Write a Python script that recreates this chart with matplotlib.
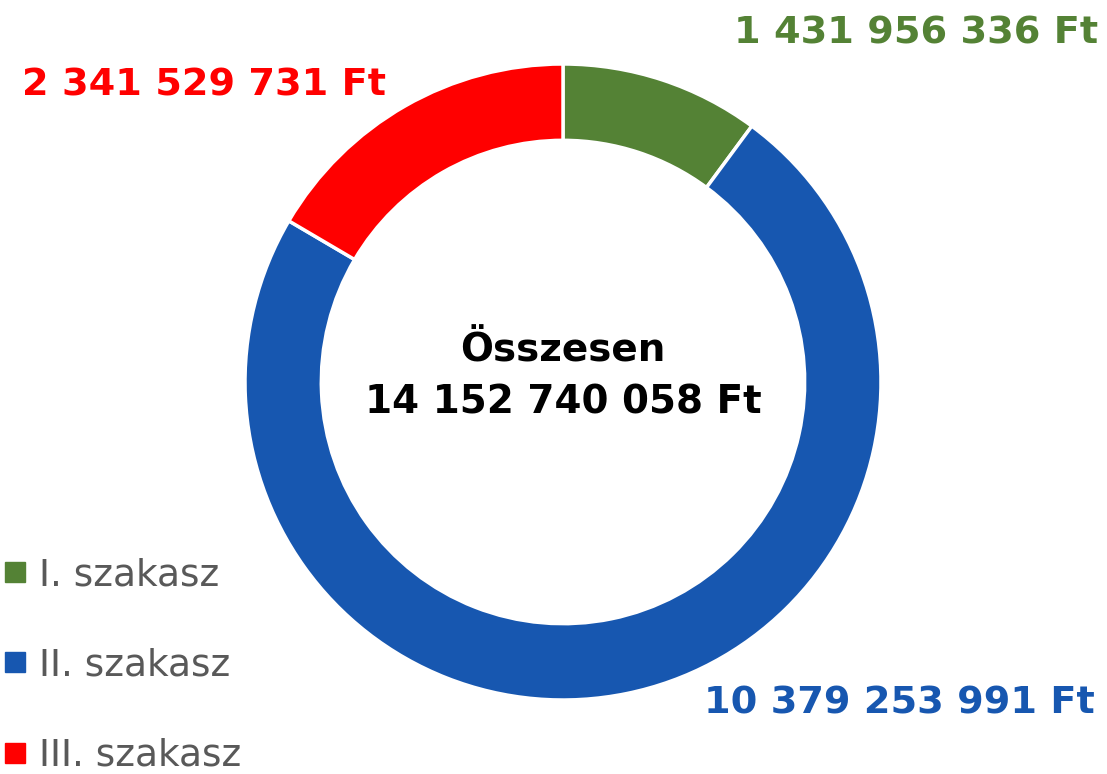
import matplotlib.pyplot as plt
from matplotlib.lines import Line2D

szakaszok = ['I. szakasz', 'II. szakasz', 'III. szakasz']
osszegek = [1431956336, 10379253991, 2341529731]
cimkek = ['1 431 956 336 Ft', '10 379 253 991 Ft', '2 341 529 731 Ft']
szinek = ['#548235', '#1757B0', '#FF0000']

W, H = 1107, 774
fig = plt.figure(figsize=(W / 100, H / 100), dpi=100)
ax = fig.add_axes([0, 0, 1, 1])

cx, cy, r = 563, H - 382, 318
wedges, _ = ax.pie(osszegek, colors=szinek, startangle=90, counterclock=False,
                   center=(cx, cy), radius=r, frame=True,
                   wedgeprops=dict(width=r * 0.24, edgecolor='white', linewidth=2.5))
ax.set_xlim(0, W)
ax.set_ylim(0, H)
ax.set_aspect('equal')
ax.axis('off')

# érték címkék
ax.text(1098, H - 34, cimkek[0], color=szinek[0], fontsize=27.5, fontweight='bold',
        ha='right', va='center')
ax.text(1095, H - 703, cimkek[1], color=szinek[1], fontsize=27.5, fontweight='bold',
        ha='right', va='center')
ax.text(22, H - 85, cimkek[2], color=szinek[2], fontsize=27.5, fontweight='bold',
        ha='left', va='center')

# közép
osszes = sum(osszegek)
osszes_str = f'{osszes:,}'.replace(',', ' ') + ' Ft'
ax.text(cx, H - 350, 'Összesen', color='black', fontsize=28, fontweight='bold',
        ha='center', va='center')
ax.text(cx, H - 402, osszes_str, color='black', fontsize=28, fontweight='bold',
        ha='center', va='center')

# jelmagyarázat
handles = [Line2D([], [], marker='s', linestyle='', markersize=14, color=c) for c in szinek]
leg = ax.legend(handles, szakaszok, loc='upper left', bbox_to_anchor=(5 / W, (H - 557) / H),
                frameon=False, fontsize=27, labelcolor='#595959',
                handlelength=0.55, handletextpad=0.35, labelspacing=1.45,
                borderaxespad=0, borderpad=0)

fig.savefig('out.png', dpi=100)
